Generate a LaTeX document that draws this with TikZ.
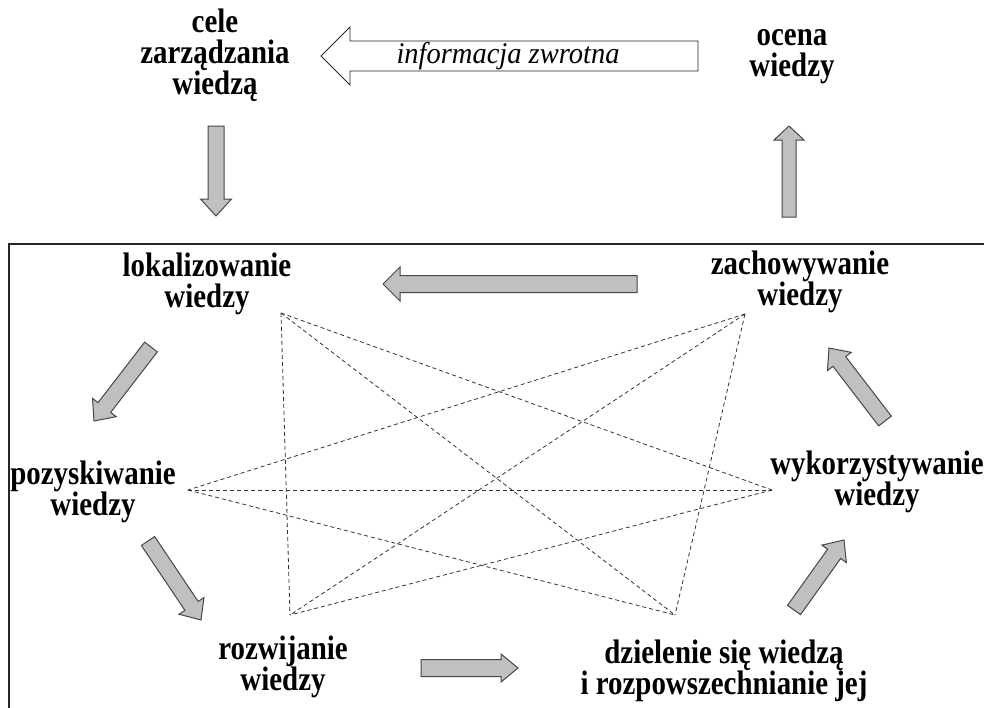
\documentclass[tikz,border=0pt]{standalone}
\usepackage{fontspec}
\setmainfont{Liberation Serif}[FakeStretch=0.85]
\newfontfamily\infofont{Liberation Serif}[FakeStretch=0.95]
\usetikzlibrary{calc}
\definecolor{arrowgray}{RGB}{192,192,192}
\definecolor{edgegray}{RGB}{70,70,70}

% block arrow: [style]{from}{to}{half shaft}{half head}{head length}
\newcommand{\blockarrow}[6][garrow]{%
  \draw[#1] let \p1=($(#3)-(#2)$), \n1={atan2(\y1,\x1)} in
    ($(#2)+(\n1+90:#4)$) --
    ($(#3)+(\n1+180:#6)+(\n1+90:#4)$) --
    ($(#3)+(\n1+180:#6)+(\n1+90:#5)$) -- (#3) --
    ($(#3)+(\n1+180:#6)+(\n1-90:#5)$) --
    ($(#3)+(\n1+180:#6)+(\n1-90:#4)$) --
    ($(#2)+(\n1-90:#4)$) -- cycle;}

\begin{document}
\begin{tikzpicture}[x=1pt, y=-1pt,
  lbl/.style={align=center, inner sep=0pt,
              font=\fontsize{34}{31}\selectfont\bfseries},
  garrow/.style={draw=edgegray, fill=arrowgray, line width=1pt},
  oarrow/.style={draw=black!85, fill=white, line width=0.8pt},
  link/.style={draw=black!80, dash pattern=on 4pt off 3pt, line width=0.8pt}
]
\useasboundingbox (0,0) rectangle (984,707);

% outer frame
\draw[line width=2pt, black!85] (9,244) rectangle (1000,720);

% labels
\node[lbl] (cele) at (215,55) {cele\\zarządzania\\wiedzą};
\node[lbl] (ocena) at (792,57) {ocena\\wiedzy};
\node[lbl] (lok) at (207,284) {lokalizowanie\\wiedzy};
\node[lbl] (zach) at (800,282) {zachowywanie\\wiedzy};
\node[lbl] (poz) at (93,492) {pozyskiwanie\\wiedzy};
\node[lbl] (wyk) at (877,482) {wykorzystywanie\\wiedzy};
\node[lbl] (roz) at (283,667) {rozwijanie\\wiedzy};
\node[lbl] (dziel) at (724,671) {dzielenie się wiedzą\\i rozpowszechnianie jej};

% feedback arrow
\coordinate (fbs) at (698,56);
\coordinate (fbe) at (321,56);
\blockarrow[oarrow]{fbs}{fbe}{15pt}{29pt}{29pt}
\node[font=\infofont\itshape\fontsize{30}{30}\selectfont, inner sep=0pt]
  (info) at (508,56) {informacja zwrotna};

% arrow ends
\coordinate (a1s) at (216,126); \coordinate (a1e) at (216,216);
\coordinate (a2s) at (789,217); \coordinate (a2e) at (789,126);
\coordinate (a3s) at (637,284); \coordinate (a3e) at (383,284);
\coordinate (a4s) at (151,347); \coordinate (a4e) at (94,421);
\coordinate (a5s) at (148,541); \coordinate (a5e) at (201,620);
\coordinate (a6s) at (421,668); \coordinate (a6e) at (518,668);
\coordinate (a7s) at (794,610); \coordinate (a7e) at (844,540);
\coordinate (a8s) at (885,421); \coordinate (a8e) at (829,348);

\blockarrow{a1s}{a1e}{8pt}{15.5pt}{17pt}
\blockarrow{a2s}{a2e}{7pt}{15pt}{14pt}
\blockarrow{a3s}{a3e}{8.5pt}{17pt}{17pt}
\blockarrow{a4s}{a4e}{8pt}{15pt}{17pt}
\blockarrow{a5s}{a5e}{8pt}{15pt}{17pt}
\blockarrow{a6s}{a6e}{8.5pt}{14pt}{17pt}
\blockarrow{a7s}{a7e}{8pt}{15pt}{17pt}
\blockarrow{a8s}{a8e}{8pt}{15pt}{17pt}

% dashed links
\coordinate (pA) at (281,313);
\coordinate (pB) at (745,314);
\coordinate (pC) at (188,490);
\coordinate (pD) at (772,490);
\coordinate (pE) at (290,615);
\coordinate (pF) at (675,615);
\foreach \s/\t in {pA/pD,pA/pE,pA/pF,pB/pC,pB/pE,pB/pF,pC/pD,pC/pF,pD/pE}
  \draw[link] (\s) -- (\t);
\end{tikzpicture}
\end{document}
